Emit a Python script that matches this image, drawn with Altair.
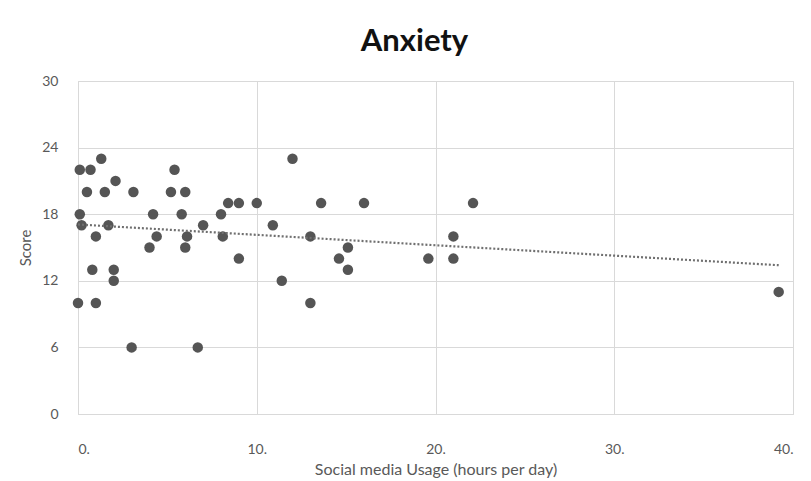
import altair as alt
import pandas as pd

usage = [0.1, 0.7, 1.3, 0.5, 1.5, 2.1, 3.1, 5.4, 5.2, 6.0,
         0.1, 0.2, 1.0, 1.7, 4.2, 4.0, 4.4, 5.8, 6.1, 6.0,
         7.0, 8.0, 8.4, 9.0, 10.0, 8.1, 9.0, 0.8, 2.0, 2.0,
         0.0, 1.0, 3.0, 6.7, 12.0, 13.6, 16.0, 10.9, 13.0, 15.1,
         14.6, 15.1, 11.4, 13.0, 22.1, 21.0, 19.6, 21.0, 39.2]
score = [22, 22, 23, 20, 20, 21, 20, 22, 20, 20,
         18, 17, 16, 17, 18, 15, 16, 18, 16, 15,
         17, 18, 19, 19, 19, 16, 14, 13, 13, 12,
         10, 10, 6, 6, 23, 19, 19, 17, 16, 15,
         14, 13, 12, 10, 19, 16, 14, 14, 11]
x_ticks = [0, 10, 20, 30, 40]
y_ticks = [0, 6, 12, 18, 24, 30]

df = pd.DataFrame({"usage": usage, "score": score})

FONT = "Lato"
GRID = "#d9d9d9"
TXT = "#595959"

x_enc = alt.X("usage:Q",
              scale=alt.Scale(domain=[0, 40], nice=False),
              axis=alt.Axis(values=x_ticks, labelExpr="datum.value + '.'",
                            title="Social media Usage (hours per day)",
                            grid=True, gridColor=GRID, domainColor=GRID,
                            ticks=False, labelPadding=28, labelFontSize=14,
                            labelColor=TXT, titleFontSize=16, titleColor=TXT,
                            titleFontWeight="normal", titlePadding=5,
                            labelFont=FONT, titleFont=FONT))
y_enc = alt.Y("score:Q",
              scale=alt.Scale(domain=[0, 30], nice=False),
              axis=alt.Axis(values=y_ticks, title="Score",
                            grid=True, gridColor=GRID, domainColor=GRID,
                            ticks=False, labelPadding=20, labelFontSize=14,
                            labelColor=TXT, titleFontSize=15, titleColor=TXT,
                            titleFontWeight="normal", titlePadding=8,
                            labelFont=FONT, titleFont=FONT))

points = alt.Chart(df).mark_circle(size=110, color="#555555", opacity=1).encode(
    x=x_enc, y=y_enc)

trend = alt.Chart(df).transform_regression("usage", "score").mark_line(
    color="#6f6f6f", strokeDash=[2, 2], strokeWidth=2.2).encode(
    x="usage:Q", y="score:Q")

chart = alt.layer(points, trend).properties(
    width=715, height=333,
    autosize=alt.AutoSizeParams(type="none"),
    padding={"left": 70, "top": 73, "right": 10, "bottom": 64},
    title=alt.TitleParams("Anxiety", font=FONT, fontSize=31, fontWeight="bold",
                          color="#111111", anchor="middle", dx=-21, offset=16),
).configure_view(stroke=GRID, strokeWidth=1)

chart.save("out.html", embed_options={"renderer": "svg", "actions": False})
